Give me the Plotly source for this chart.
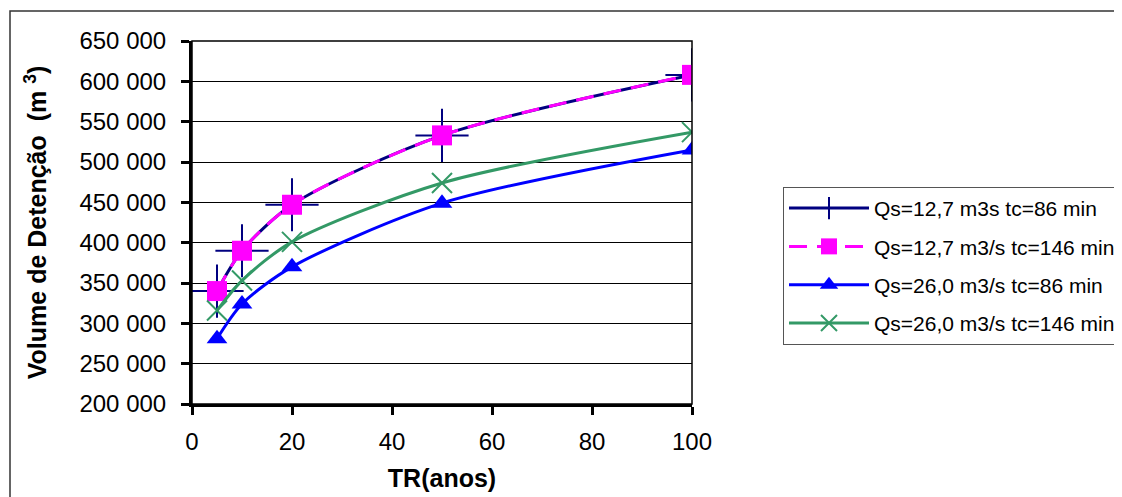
import plotly.graph_objects as go

# tempo de retorno (anos)
tr = [5, 10, 20, 50, 100]

# volume de detenção (m3)
vol_127_86 = [340000, 390000, 447000, 533000, 608000]
vol_127_146 = [340000, 390000, 447000, 533000, 608000]
vol_260_86 = [281000, 324000, 370000, 449000, 515000]
vol_260_146 = [316000, 353000, 401000, 474000, 537000]

series_names = [
    "Qs=12,7 m3s tc=86 min",
    "Qs=12,7 m3/s tc=146 min",
    "Qs=26,0 m3/s tc=86 min",
    "Qs=26,0 m3/s tc=146 min",
]

y_ticks = [200000, 250000, 300000, 350000, 400000, 450000, 500000, 550000, 600000, 650000]
y_ticktext = ["200 000", "250 000", "300 000", "350 000", "400 000",
              "450 000", "500 000", "550 000", "600 000", "650 000"]
x_ticks = [0, 20, 40, 60, 80, 100]

FONT = "Liberation Sans, Arial, sans-serif"

fig = go.Figure()

fig.add_trace(go.Scatter(
    x=tr, y=vol_127_86, name=series_names[0], mode="lines+markers", legendgroup="a",
    line=dict(color="#000080", width=3, shape="spline", smoothing=0.8),
    marker=dict(symbol="cross-thin", size=38, line=dict(color="#000080", width=2)),
))
fig.add_trace(go.Scatter(
    x=tr, y=vol_127_146, name=series_names[1], mode="lines+markers", legendgroup="b",
    line=dict(color="#FF00FF", width=3, shape="spline", smoothing=0.8, dash="18px,10px"),
    marker=dict(symbol="square", size=20, color="#FF00FF"),
))
fig.add_trace(go.Scatter(
    x=tr, y=vol_260_86, name=series_names[2], mode="lines+markers", legendgroup="c",
    line=dict(color="#0000FF", width=3, shape="spline", smoothing=0.8),
    marker=dict(symbol="triangle-up", size=18, color="#0000FF"),
))
fig.add_trace(go.Scatter(
    x=tr, y=vol_260_146, name=series_names[3], mode="lines+markers", legendgroup="d",
    line=dict(color="#339966", width=3, shape="spline", smoothing=0.8),
    marker=dict(symbol="x-thin", size=20, line=dict(color="#339966", width=2)),
))

# moldura externa do gráfico
fig.add_shape(type="rect", xref="paper", yref="paper",
              x0=-0.364, x1=1.9, y0=-0.3, y1=1.0826,
              line=dict(color="#333333", width=1.5), layer="below")
# borda da área de plotagem
fig.add_shape(type="rect", xref="paper", yref="paper",
              x0=0, x1=1, y0=0, y1=1,
              line=dict(color="black", width=1.5))

fig.update_layout(
    width=1122, height=497,
    margin=dict(l=184, r=438, t=33, b=101, autoexpand=False),
    paper_bgcolor="white", plot_bgcolor="white",
    font=dict(family=FONT, size=24, color="black"),
    showlegend=True,
    legend=dict(
        x=1.182, y=0.598, xanchor="left", yanchor="top",
        bgcolor="white", bordercolor="#555555", borderwidth=1,
        font=dict(size=21), itemwidth=80, tracegroupgap=8,
    ),
    xaxis=dict(
        range=[0, 100], tickvals=x_ticks, showgrid=False, zeroline=False,
        showline=True, linecolor="black", linewidth=3, automargin=False,
        ticks="outside", ticklen=8, tickwidth=3, tickcolor="black",
        ticklabelstandoff=6,
        title=dict(text="<b>TR(anos)</b>", font=dict(size=25), standoff=16),
    ),
    yaxis=dict(
        range=[200000, 650000], tickvals=y_ticks, ticktext=y_ticktext,
        showgrid=True, gridcolor="black", gridwidth=1, zeroline=False,
        showline=True, linecolor="black", linewidth=3, automargin=False,
        ticks="outside", ticklen=8, tickwidth=3, tickcolor="black",
        ticklabelstandoff=10,
        title=dict(text="<b>Volume de Detenção  (m <sup>3</sup>)</b>", font=dict(size=25), standoff=26),
    ),
)

fig.write_html("out.html")
